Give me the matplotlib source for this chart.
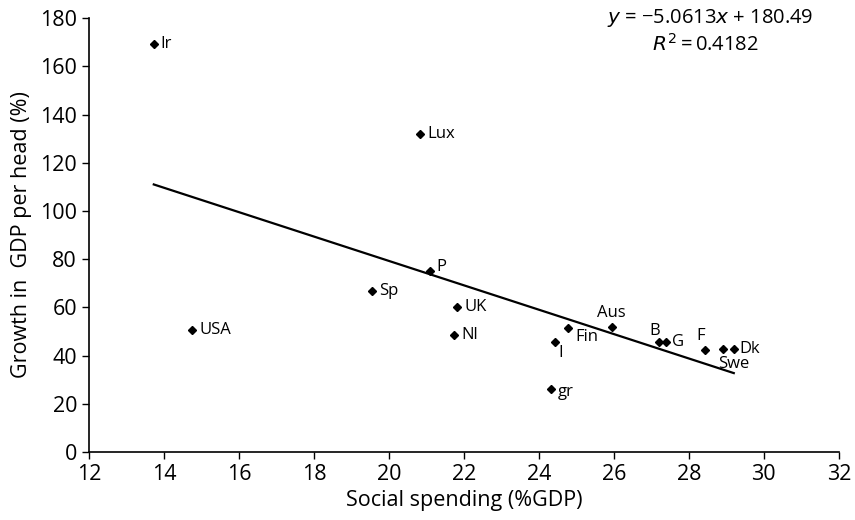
import numpy as np
import matplotlib.pyplot as plt

plt.rcParams['font.family'] = ['Open Sans', 'DejaVu Sans']

countries = ['Ir', 'Lux', 'P', 'UK', 'Nl', 'I', 'Fin', 'gr', 'Sp', 'USA',
             'Aus', 'B', 'G', 'F', 'Swe', 'Dk']
social = [13.73, 20.83, 21.09, 21.82, 21.74, 24.43, 24.79, 24.33, 19.55, 14.76,
          25.94, 27.21, 27.38, 28.43, 28.90, 29.20]
growth = [169.2, 131.9, 75.1, 60.3, 48.5, 45.5, 51.6, 26.0, 66.8, 50.6,
          51.8, 45.6, 45.7, 42.2, 42.7, 42.7]

# label offsets in points (dx, dy) and alignment
offsets = {
    'Ir': (5, 0, 'left', 'center'),
    'Lux': (5, 0, 'left', 'center'),
    'P': (5, 3, 'left', 'center'),
    'UK': (5, 0, 'left', 'center'),
    'Nl': (5, 0, 'left', 'center'),
    'I': (4, -8, 'center', 'center'),
    'Fin': (5, -7, 'left', 'center'),
    'gr': (5, -2, 'left', 'center'),
    'Sp': (5, 0, 'left', 'center'),
    'USA': (5, 0, 'left', 'center'),
    'Aus': (0, 10, 'center', 'center'),
    'B': (-3, 8, 'center', 'center'),
    'G': (5, 0, 'left', 'center'),
    'F': (-3, 10, 'center', 'center'),
    'Swe': (8, -11, 'center', 'center'),
    'Dk': (4, 0, 'left', 'center'),
}

slope, intercept, r2 = -5.0613, 180.49, 0.4182

fig = plt.figure(figsize=(8.55, 5.2), dpi=100)
ax = fig.add_axes([0.104, 0.131, 0.877, 0.834])

ax.plot(social, growth, 'D', color='black', markersize=4.2)

xs = np.array([min(social), max(social)])
ax.plot(xs, slope * xs + intercept, color='black', linewidth=1.6)

for name, x, y in zip(countries, social, growth):
    dx, dy, ha, va = offsets[name]
    ax.annotate(name, (x, y), xytext=(dx, dy), textcoords='offset points',
                ha=ha, va=va, fontsize=12)

ax.text(0.829, 1.0, '$y$ = \u22125.0613$x$ + 180.49', transform=ax.transAxes,
        ha='center', va='center', fontsize=14.5)
ax.text(0.822, 0.938, '$R^{2}$\u2009=\u20090.4182', transform=ax.transAxes,
        ha='center', va='center', fontsize=14.5)

ax.set_xlim(12, 32)
ax.set_ylim(0, 180)
ax.set_xticks(np.arange(12, 33, 2))
ax.set_yticks(np.arange(0, 181, 20))
ax.tick_params(direction='out', length=5, width=1, labelsize=15.5, colors='black')
for s in ['top', 'right']:
    ax.spines[s].set_visible(False)
for s in ['left', 'bottom']:
    ax.spines[s].set_linewidth(1.2)

ax.set_xlabel('Social spending (%GDP)', fontsize=15.5, labelpad=4)
ax.set_ylabel('Growth in  GDP per head (%)', fontsize=15.5, labelpad=6)

fig.savefig('out.png', dpi=100)
